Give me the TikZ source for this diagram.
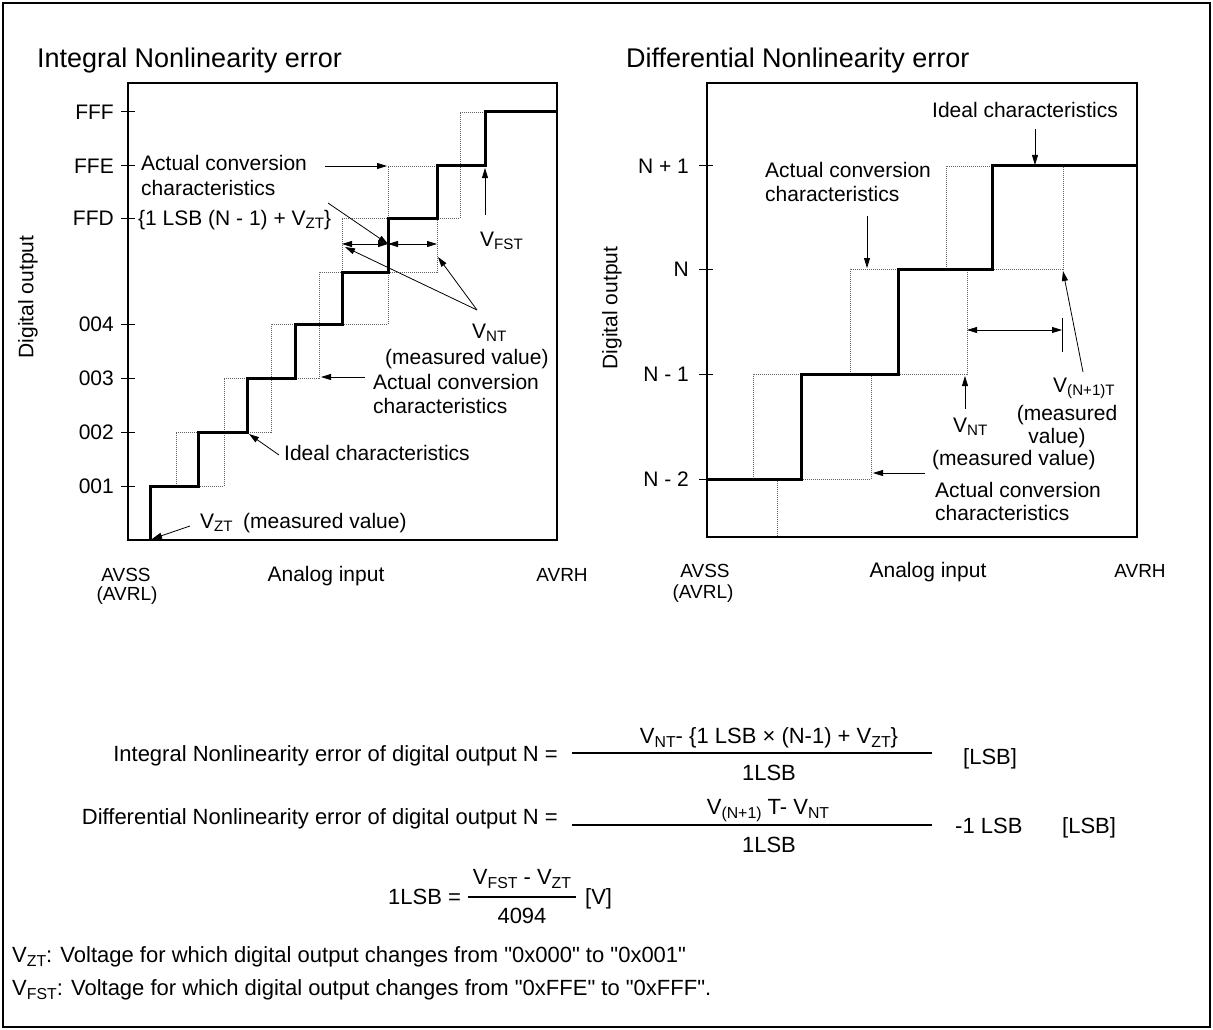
\documentclass[tikz,border=0pt]{standalone}
\usepackage{fontspec}
\setmainfont{Liberation Sans}
\usepackage{graphicx}
\usetikzlibrary{arrows.meta}

\newcommand{\vsub}[1]{\raisebox{-0.35ex}{\scalebox{0.72}{#1}}}
\newcommand{\dq}{\XeTeXglyph\XeTeXcharglyph"22\relax}

\begin{document}
\begin{tikzpicture}[x=1pt, y=-1pt,
		lbl/.style={inner sep=0pt, font=\fontsize{21}{24}\selectfont},
		ttl/.style={inner sep=0pt, font=\fontsize{27}{30}\selectfont},
		eqn/.style={inner sep=0pt, font=\fontsize{22}{26}\selectfont},
		ends/.style={inner sep=0pt, font=\fontsize{19}{22}\selectfont},
		boxline/.style={line width=1.3pt},
		tick/.style={line width=1pt},
		ideal/.style={line width=3pt, line join=miter},
		actual/.style={line width=0.9pt, gray!75!black, dash pattern=on 1pt off 1pt},
		ptr/.style={line width=0.8pt, -{Triangle[length=10pt,width=6pt]}},
		span/.style={line width=0.8pt, {Triangle[length=10pt,width=6pt]}-{Triangle[length=10pt,width=6pt]}}]

	% page and frame
	\useasboundingbox (0,0) rectangle (1213,1030);
	\draw [line width=2pt] (3,3) rectangle (1210,1027);

	% ---------- integral nonlinearity ----------
	\node [ttl, anchor=base west] (inlTitle) at (37,68) {Integral Nonlinearity error};
	\draw [boxline] (128,83) rectangle (557,540);
	\foreach \y/\code in {112/FFF, 166/FFE, 218/FFD, 324/004, 378/003, 432/002, 486/001}
		{
		\draw [tick] (121,\y) -- (135,\y);
		\node [lbl, anchor=east] (inl\code) at (114,\y) {\code};
		}
	\node [lbl, rotate=90] (inlYlab) at (28,297) {Digital output};
	\node [ends, anchor=base] (inlAvss) at (126,581) {AVSS};
	\node [ends, anchor=base] (inlAvrl) at (127,600) {(AVRL)};
	\node [lbl, anchor=base] (inlXlab) at (326,581) {Analog input};
	\node [ends, anchor=base] (inlAvrh) at (562,581) {AVRH};

	% actual conversion characteristics (dotted)
	\draw [actual] (176,486) -- (176,432) -- (224,432) -- (224,378) -- (271,378) -- (271,324) -- (319,324) -- (319,272) -- (342,272) -- (342,218) -- (388,218) -- (388,166) -- (460,166) -- (460,112) -- (485,112);
	\draw [actual] (198,486) -- (224,486) -- (224,432) -- (271,432) -- (271,378) -- (319,378) -- (319,324) -- (388,324) -- (388,272) -- (437,272) -- (437,218) -- (460,218) -- (460,166);

	% ideal characteristics
	\draw [ideal] (150,540) -- (150,486) -- (198,486) -- (198,432) -- (247,432) -- (247,378) -- (295,378) -- (295,324) -- (342,324) -- (342,272) -- (388,272) -- (388,218) -- (437,218) -- (437,166) -- (485,166) -- (485,112) -- (557,112);

	% widths around step N
	\coordinate (nLeft) at (342,244);
	\coordinate (nMid) at (388,244);
	\coordinate (nRight) at (437,244);
	\draw [span] (nLeft) -- (nMid);
	\draw [span] (nMid) -- (nRight);

	% labels and pointers
	\node [lbl, anchor=base west] (inlActA) at (141,171) {Actual conversion};
	\node [lbl, anchor=base west] (inlActB) at (141,195) {characteristics};
	\coordinate (inlActTail) at (325,166);
	\coordinate (inlActTip) at (387,166);
	\draw [ptr] (inlActTail) -- (inlActTip);

	\node [lbl, anchor=base west] (inlIdeal) at (138,225) {\{1 LSB (N - 1) + V\vsub{ZT}\}};
	\coordinate (inlIdealTail) at (328,203);
	\draw [ptr] (inlIdealTail) -- (nMid);

	\node [lbl, anchor=base west] (inlVnt) at (472,338) {V\vsub{NT}};
	\node [lbl, anchor=base west] (inlVntM) at (385,364) {(measured value)};
	\coordinate (inlVntTail) at (477,310);
	\coordinate (inlVntA) at (345,247);
	\coordinate (inlVntB) at (438,257);
	\draw [ptr] (inlVntTail) -- (inlVntA);
	\draw [ptr] (inlVntTail) -- (inlVntB);

	\node [lbl, anchor=base west] (inlActC) at (373,389) {Actual conversion};
	\node [lbl, anchor=base west] (inlActD) at (373,413) {characteristics};
	\coordinate (inlActCTail) at (365,377);
	\coordinate (inlActCTip) at (321,377);
	\draw [ptr] (inlActCTail) -- (inlActCTip);

	\node [lbl, anchor=base west] (inlIdl) at (284,460) {Ideal characteristics};
	\coordinate (inlIdlTail) at (279,455);
	\coordinate (inlIdlTip) at (249,434);
	\draw [ptr] (inlIdlTail) -- (inlIdlTip);

	\node [lbl, anchor=base west] (inlVzt) at (200,528) {V\vsub{ZT}\enspace(measured value)};
	\coordinate (inlVztTail) at (190,526);
	\coordinate (inlVztTip) at (152,539);
	\draw [ptr] (inlVztTail) -- (inlVztTip);

	\node [lbl, anchor=base west] (inlVfst) at (480,246) {V\vsub{FST}};
	\coordinate (inlVfstTail) at (485,215);
	\coordinate (inlVfstTip) at (485,168);
	\draw [ptr] (inlVfstTail) -- (inlVfstTip);

	% ---------- differential nonlinearity ----------
	\node [ttl, anchor=base west] (dnlTitle) at (626,68) {Differential Nonlinearity error};
	\draw [boxline] (707,83) rectangle (1137,537);
	\foreach \y/\code/\nm in {166/N + 1/a, 269/N/b, 374/N - 1/c, 479/N - 2/d}
		{
		\draw [tick] (699,\y) -- (713,\y);
		\node [lbl, anchor=east] (dnl\nm) at (689,\y) {\code};
		}
	\node [lbl, rotate=90] (dnlYlab) at (612,308) {Digital output};
	\node [ends, anchor=base] (dnlAvss) at (705,577) {AVSS};
	\node [ends, anchor=base] (dnlAvrl) at (703,598) {(AVRL)};
	\node [lbl, anchor=base] (dnlXlab) at (928,577) {Analog input};
	\node [ends, anchor=base] (dnlAvrh) at (1140,577) {AVRH};

	% actual conversion characteristics (dotted)
	\draw [actual] (753,479) -- (753,374) -- (801,374);
	\draw [actual] (850,374) -- (850,269) -- (898,269);
	\draw [actual] (946,269) -- (946,166) -- (992,166);
	\draw [actual] (801,479) -- (871,479) -- (871,374) -- (898,374);
	\draw [actual] (898,374) -- (967,374) -- (967,269) -- (992,269);
	\draw [actual] (992,269) -- (1063,269) -- (1063,166);
	\draw [actual] (777,479) -- (777,537);

	% ideal characteristics
	\draw [ideal] (707,479) -- (801,479) -- (801,374) -- (898,374) -- (898,269) -- (992,269) -- (992,166) -- (1137,166);

	% width of step N
	\coordinate (dnlLeft) at (967,330);
	\coordinate (dnlRight) at (1062,330);
	\draw [span] (dnlLeft) -- (dnlRight);
	\coordinate (dnlBarTop) at (1062,318);
	\coordinate (dnlBarBot) at (1062,352);
	\draw [line width=0.8pt] (dnlBarTop) -- (dnlBarBot);

	% labels and pointers
	\node [lbl, anchor=base west] (dnlActA) at (765,177) {Actual conversion};
	\node [lbl, anchor=base west] (dnlActB) at (765,201) {characteristics};
	\coordinate (dnlActTail) at (867,216);
	\coordinate (dnlActTip) at (867,268);
	\draw [ptr] (dnlActTail) -- (dnlActTip);

	\node [lbl, anchor=base] (dnlIdl) at (1025,118) {Ideal characteristics};
	\coordinate (dnlIdlTail) at (1035,129);
	\coordinate (dnlIdlTip) at (1035,165);
	\draw [ptr] (dnlIdlTail) -- (dnlIdlTip);

	\node [lbl, anchor=base west] (dnlVnp) at (1053,392) {V\vsub{(N+1)T}};
	\node [lbl, anchor=base] (dnlVnpM) at (1067,420) {(measured};
	\node [lbl, anchor=base] (dnlVnpV) at (1057,443) {value)};
	\coordinate (dnlVnpTail) at (1083,372);
	\coordinate (dnlVnpTip) at (1063,271);
	\draw [ptr] (dnlVnpTail) -- (dnlVnpTip);

	\node [lbl, anchor=base west] (dnlVnt) at (953,432) {V\vsub{NT}};
	\node [lbl, anchor=base west] (dnlVntM) at (932,465) {(measured value)};
	\coordinate (dnlVntTail) at (965,409);
	\coordinate (dnlVntTip) at (965,376);
	\draw [ptr] (dnlVntTail) -- (dnlVntTip);

	\node [lbl, anchor=base west] (dnlActC) at (935,497) {Actual conversion};
	\node [lbl, anchor=base west] (dnlActD) at (935,520) {characteristics};
	\coordinate (dnlActCTail) at (925,473);
	\coordinate (dnlActCTip) at (873,473);
	\draw [ptr] (dnlActCTail) -- (dnlActCTip);

	% ---------- formulas ----------
	\node [eqn, anchor=base east] (inlEq) at (558,761) {Integral Nonlinearity error of digital output N =};
	\draw [line width=1.4pt] (572,753) -- (932,753);
	\node [eqn, anchor=base] (inlNum) at (769,743) {V\vsub{NT}- \{1 LSB × (N-1) + V\vsub{ZT}\}};
	\node [eqn, anchor=base] (inlDen) at (769,780) {1LSB};
	\node [eqn, anchor=base west] (inlUnit) at (963,764) {[LSB]};

	\node [eqn, anchor=base east] (dnlEq) at (558,824) {Differential Nonlinearity error of digital output N =};
	\draw [line width=1.4pt] (572,825) -- (932,825);
	\node [eqn, anchor=base] (dnlNum) at (768,814) {V\vsub{(N+1)} T- V\vsub{NT}};
	\node [eqn, anchor=base] (dnlDen) at (769,852) {1LSB};
	\node [eqn, anchor=base west] (dnlOff) at (955,833) {-1 LSB};
	\node [eqn, anchor=base west] (dnlUnit) at (1062,833) {[LSB]};

	\node [eqn, anchor=base west] (lsbEq) at (388,904) {1LSB =};
	\draw [line width=1.4pt] (468,897) -- (576,897);
	\node [eqn, anchor=base] (lsbNum) at (522,884) {V\vsub{FST} - V\vsub{ZT}};
	\node [eqn, anchor=base] (lsbDen) at (522,923) {4094};
	\node [eqn, anchor=base west] (lsbUnit) at (585,904) {[V]};

	\node [eqn, anchor=base west] (noteZt) at (12,962) {V\vsub{ZT}: Voltage for which digital output changes from \dq 0x000\dq\ to \dq 0x001\dq};
	\node [eqn, anchor=base west] (noteFst) at (12,995) {V\vsub{FST}: Voltage for which digital output changes from \dq 0xFFE\dq\ to \dq 0xFFF\dq .};
\end{tikzpicture}
\end{document}
